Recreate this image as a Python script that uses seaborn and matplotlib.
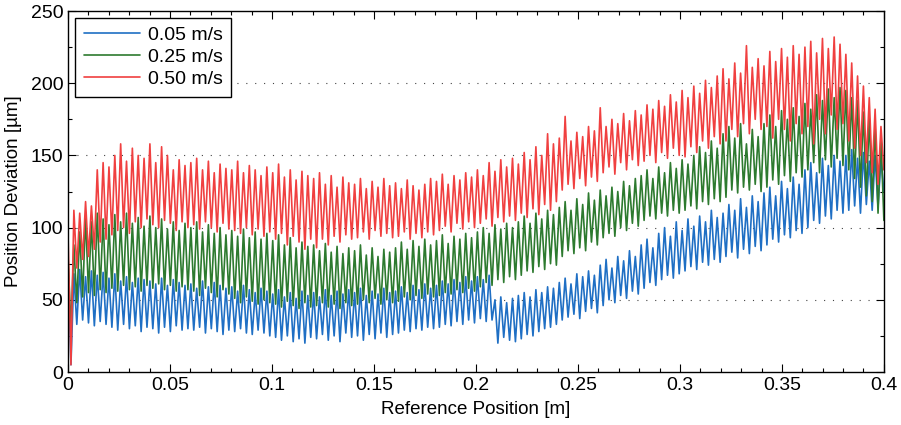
import numpy as np
import pandas as pd
import matplotlib
matplotlib.use("Agg")
import matplotlib.pyplot as plt
import seaborn as sns
from matplotlib.ticker import MultipleLocator, FuncFormatter

labels = ["0.05 m/s", "0.25 m/s", "0.50 m/s"]
colors = ["#1f6fc4", "#2d7a2f", "#f04040"]

# alternating peak / trough values, one row per 0.02 m of travel
blue = [
    72, 5, 68, 33, 71, 36, 66, 34, 70, 32, 67, 35, 69, 33,
    65, 31, 68, 29, 63, 33, 66, 30, 62, 32, 65, 28, 64, 31,
    63, 30, 61, 27, 65, 31, 60, 28, 64, 32, 62, 29, 60, 30,
    61, 29, 58, 31, 63, 27, 59, 30, 62, 28, 60, 26, 58, 29,
    59, 28, 56, 30, 60, 27, 57, 26, 55, 29, 58, 27, 56, 25,
    54, 24, 57, 22, 52, 25, 55, 21, 51, 23, 56, 20, 53, 24,
    55, 23, 52, 26, 57, 22, 53, 25, 56, 21, 54, 27, 57, 24,
    55, 25, 58, 22, 53, 26, 56, 23, 54, 27, 58, 24, 55, 26,
    56, 27, 59, 29, 55, 28, 60, 30, 57, 29, 61, 31, 58, 30,
    60, 31, 63, 33, 61, 32, 64, 35, 62, 33, 66, 36, 63, 34,
    66, 37, 64, 35, 67, 36, 50, 20, 52, 24, 48, 22, 51, 21,
    53, 23, 55, 26, 52, 25, 57, 28, 55, 30, 59, 31, 58, 33,
    62, 36, 65, 38, 61, 40, 68, 37, 66, 42, 70, 44, 67, 41,
    74, 46, 78, 50, 72, 48, 80, 53, 77, 51, 84, 56, 80, 54,
    88, 58, 92, 62, 86, 60, 96, 64, 100, 67, 94, 65, 104, 68,
    98, 70, 106, 73, 101, 71, 108, 76, 104, 74, 112, 78, 107, 76,
    110, 80, 116, 83, 112, 79, 120, 85, 114, 82, 122, 87, 118, 84,
    124, 88, 128, 92, 122, 90, 132, 95, 127, 93, 135, 98, 130, 96,
    140, 100, 145, 105, 138, 103, 148, 108, 143, 106, 150, 112, 146, 110,
    150, 112, 154, 115, 148, 110, 152, 116, 146, 112, 150, 114, 148, 125,
]

green = [
    80, 30, 88, 48, 97, 52, 108, 55, 104, 53, 110, 57, 106, 55,
    102, 58, 109, 56, 104, 60, 110, 57, 103, 59, 107, 56, 101, 60,
    108, 58, 100, 61, 106, 57, 99, 60, 104, 56, 98, 59, 103, 57,
    100, 56, 104, 53, 97, 58, 102, 55, 96, 52, 100, 57, 95, 54,
    98, 51, 94, 48, 99, 52, 93, 49, 97, 47, 92, 50, 96, 48,
    91, 47, 95, 45, 88, 49, 93, 46, 86, 44, 90, 48, 87, 45,
    88, 46, 84, 48, 89, 45, 83, 47, 87, 44, 82, 48, 86, 46,
    84, 47, 88, 50, 81, 48, 86, 51, 80, 47, 85, 50, 83, 48,
    86, 49, 90, 52, 85, 50, 91, 53, 87, 51, 92, 54, 88, 52,
    91, 53, 95, 55, 89, 54, 94, 57, 92, 55, 96, 58, 93, 56,
    97, 59, 100, 62, 96, 60, 102, 64, 99, 62, 103, 66, 100, 64,
    104, 67, 108, 70, 103, 69, 110, 73, 106, 71, 112, 75, 109, 74,
    114, 80, 118, 84, 112, 82, 120, 86, 116, 84, 124, 90, 119, 88,
    126, 93, 122, 96, 128, 94, 125, 100, 132, 98, 129, 103, 134, 101,
    136, 105, 140, 108, 134, 106, 142, 110, 138, 108, 145, 112, 141, 110,
    147, 112, 144, 115, 150, 113, 156, 118, 152, 116, 160, 120, 155, 118,
    165, 121, 170, 126, 162, 124, 172, 128, 158, 126, 168, 130, 163, 125,
    172, 128, 178, 133, 170, 130, 181, 136, 175, 132, 183, 138, 177, 135,
    186, 140, 182, 145, 192, 138, 188, 147, 196, 142, 190, 148, 197, 143,
    195, 140, 190, 134, 188, 128, 180, 122, 176, 118, 170, 110, 162, 105,
]

red = [
    95, 5, 112, 72, 110, 78, 118, 80, 115, 85, 140, 90, 145, 92,
    142, 95, 150, 98, 158, 100, 146, 96, 155, 104, 150, 100, 148, 106,
    158, 102, 145, 100, 156, 105, 150, 103, 140, 98, 147, 104, 143, 100,
    145, 102, 148, 99, 140, 104, 146, 100, 138, 97, 144, 103, 141, 99,
    140, 98, 146, 96, 138, 100, 143, 95, 140, 99, 136, 94, 142, 97,
    138, 92, 144, 96, 135, 88, 140, 94, 133, 90, 139, 85, 136, 92,
    134, 86, 138, 92, 130, 88, 136, 94, 128, 90, 135, 95, 131, 92,
    130, 93, 134, 97, 127, 92, 132, 98, 128, 94, 134, 96, 129, 93,
    131, 94, 127, 97, 133, 92, 129, 96, 126, 93, 130, 97, 134, 95,
    132, 98, 137, 101, 130, 97, 136, 103, 133, 99, 138, 104, 135, 100,
    140, 103, 136, 106, 145, 101, 139, 107, 147, 104, 142, 108, 148, 105,
    144, 110, 152, 107, 147, 113, 156, 109, 150, 116, 165, 112, 158, 118,
    162, 126, 177, 130, 160, 127, 166, 134, 163, 129, 170, 135, 167, 132,
    183, 138, 170, 142, 175, 137, 172, 145, 179, 140, 174, 147, 181, 143,
    178, 146, 185, 150, 182, 145, 188, 152, 184, 148, 192, 155, 187, 150,
    195, 149, 190, 156, 198, 152, 193, 160, 202, 155, 197, 163, 205, 158,
    210, 160, 203, 168, 214, 163, 207, 172, 226, 165, 211, 175, 217, 168,
    212, 170, 222, 162, 215, 175, 224, 168, 218, 160, 226, 172, 220, 165,
    225, 170, 229, 158, 221, 175, 231, 165, 224, 178, 232, 168, 227, 172,
    220, 160, 214, 155, 205, 150, 198, 145, 190, 138, 182, 130, 170, 140,
]

series = [blue, green, red]
frames = []
for lab, vals in zip(labels, series):
    frames.append(pd.DataFrame({
        "pos": np.linspace(0, 0.4, len(vals)),
        "dev": vals,
        "speed": lab,
    }))
df = pd.concat(frames, ignore_index=True)

sns.set_style("ticks")
plt.rcParams["font.family"] = ["Liberation Sans", "DejaVu Sans"]
plt.rcParams["text.color"] = "black"
plt.rcParams["axes.labelcolor"] = "black"

fig = plt.figure(figsize=(9.01, 4.25), dpi=100)
ax = fig.add_axes([0.0755, 0.1247, 0.9055, 0.8494])

sns.lineplot(data=df, x="pos", y="dev", hue="speed", hue_order=labels,
             palette=colors, estimator=None, sort=False, linewidth=1.2,
             ax=ax)

ax.set_xlim(0, 0.4)
ax.set_ylim(0, 250)
ax.xaxis.set_major_locator(MultipleLocator(0.05))
ax.xaxis.set_minor_locator(MultipleLocator(0.01))
ax.yaxis.set_major_locator(MultipleLocator(50))
ax.yaxis.set_minor_locator(MultipleLocator(25))
ax.xaxis.set_major_formatter(FuncFormatter(lambda v, p: f"{v:.2f}".rstrip("0").rstrip(".")))
ax.tick_params(which="both", direction="in", top=True, right=True,
               colors="black", labelsize=14, width=0.8)
ax.tick_params(which="major", length=6)
ax.tick_params(which="minor", length=3)
for s in ax.spines.values():
    s.set_color("black")
    s.set_linewidth(1.0)

for yv in [50, 100, 150, 200]:
    ax.axhline(yv, color="#444444", linewidth=0.8, linestyle=(0, (1, 7)), zorder=0)

ax.set_xlabel("Reference Position [m]", fontsize=13.5, labelpad=5, color="black")
ax.set_ylabel("Position Deviation [\u00b5m]", fontsize=13.5, labelpad=6, color="black")

leg = ax.legend(loc="upper left", fontsize=14, frameon=True, fancybox=False,
                edgecolor="black", handlelength=2.9, labelspacing=0.22,
                borderaxespad=0.35, borderpad=0.45, handletextpad=0.4)
leg.get_frame().set_linewidth(1.0)
leg.get_frame().set_alpha(1)
for h in leg.get_lines():
    h.set_linewidth(1.2)
for t in leg.get_texts():
    t.set_color("black")

fig.savefig("out.png", dpi=100)
